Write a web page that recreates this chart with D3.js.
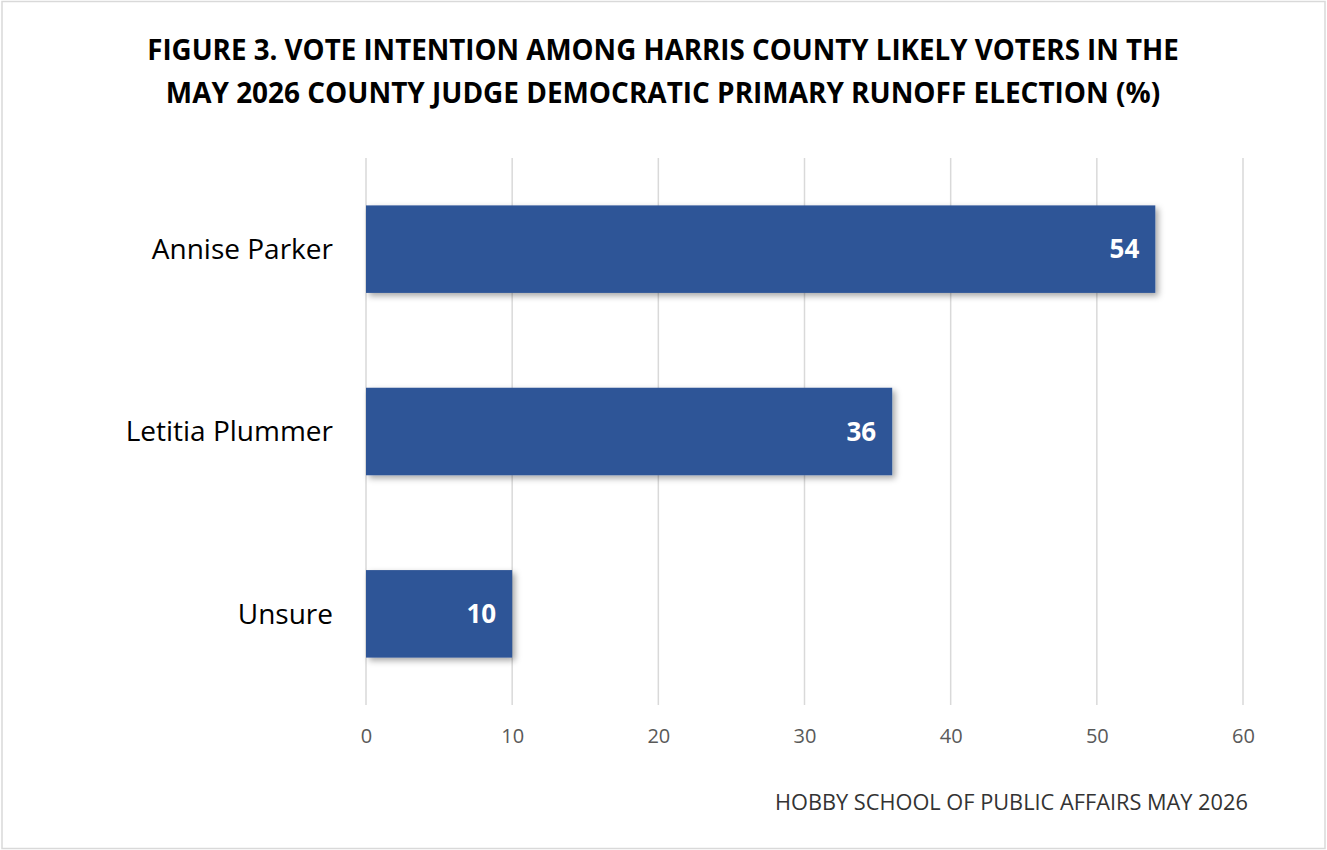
<!DOCTYPE html>
<html><head><meta charset="utf-8">
<script src="https://cdn.jsdelivr.net/npm/d3@7"></script>
<style>body{margin:0;background:#fff;}svg{display:block;}</style>
</head><body>
<script>
const categories = ["Annise Parker", "Letitia Plummer", "Unsure"];
const values = [54, 36, 10];
const ticks = [0, 10, 20, 30, 40, 50, 60];
const titleLines = ["FIGURE 3. VOTE INTENTION AMONG HARRIS COUNTY LIKELY VOTERS IN THE",
                    "MAY 2026 COUNTY JUDGE DEMOCRATIC PRIMARY RUNOFF ELECTION (%)"];
const footer = "HOBBY SCHOOL OF PUBLIC AFFAIRS MAY 2026";

const W = 1327, H = 850;
const svg = d3.select("body").append("svg").attr("width", W).attr("height", H);
const defs = svg.append("defs");
const f = defs.append("filter").attr("id","sh").attr("x","-10%").attr("y","-20%").attr("width","130%").attr("height","150%");
f.append("feDropShadow").attr("dx",3).attr("dy",3).attr("stdDeviation",3).attr("flood-color","#000").attr("flood-opacity",0.35);

svg.append("rect").attr("x",2).attr("y",1.5).attr("width",W-4).attr("height",H-3)
  .attr("fill","#fff").attr("stroke","#d9d9d9").attr("stroke-width",1.5);

const x = d3.scaleLinear().domain([0,60]).range([366,1243]);
const y = d3.scaleBand().domain(categories).range([158,705]).paddingInner(0.52).paddingOuter(0.26);

// gridlines
svg.append("g").selectAll("line").data(ticks).join("line")
  .attr("x1",d=>x(d)).attr("x2",d=>x(d)).attr("y1",158).attr("y2",705)
  .attr("stroke","#d9d9d9").attr("stroke-width",1.5);

// axis labels
const ax = svg.append("g").attr("transform","translate(0,705)")
  .call(d3.axisBottom(x).tickValues(ticks).tickSize(0).tickPadding(24));
ax.select(".domain").remove();
ax.selectAll("text").attr("font-family","Open Sans, sans-serif").attr("font-size",20).attr("fill","#595959");

// bars
svg.append("g").selectAll("rect").data(values).join("rect")
  .attr("x",x(0)).attr("y",(d,i)=>y(categories[i]))
  .attr("width",d=>x(d)-x(0)).attr("height",y.bandwidth())
  .attr("fill","#2F5597").attr("filter","url(#sh)");

// value labels
svg.append("g").selectAll("text").data(values).join("text")
  .attr("x",d=>x(d)-16).attr("y",(d,i)=>y(categories[i])+y.bandwidth()/2)
  .attr("dy","0.35em").attr("text-anchor","end")
  .attr("font-family","Open Sans, sans-serif").attr("font-weight","bold").attr("font-size",26)
  .attr("fill","#fff").text(d=>d);

// category labels
svg.append("g").selectAll("text").data(categories).join("text")
  .attr("x",333).attr("y",d=>y(d)+y.bandwidth()/2).attr("dy","0.35em").attr("text-anchor","end")
  .attr("font-family","Open Sans, sans-serif").attr("font-size",28).attr("fill","#000").text(d=>d);

// title
const tY = [60, 103];
titleLines.forEach((t,i)=>{
  const el = svg.append("text").attr("x",663).attr("y",tY[i]).attr("text-anchor","middle")
    .attr("font-family","Open Sans, sans-serif").attr("font-weight","bold").attr("font-size",26)
    .attr("fill","#000").text(t);
  const target = i===0 ? 1032 : 995;
  const w = el.node().getComputedTextLength();
  el.attr("font-size", 26*target/w);
});

// footer
const fe = svg.append("text").attr("x",775).attr("y",810)
  .attr("font-family","Open Sans, sans-serif").attr("font-size",18).attr("fill","#333").text(footer);
const fw = fe.node().getComputedTextLength();
fe.attr("font-size", 18*473/fw);
</script>
</body></html>
